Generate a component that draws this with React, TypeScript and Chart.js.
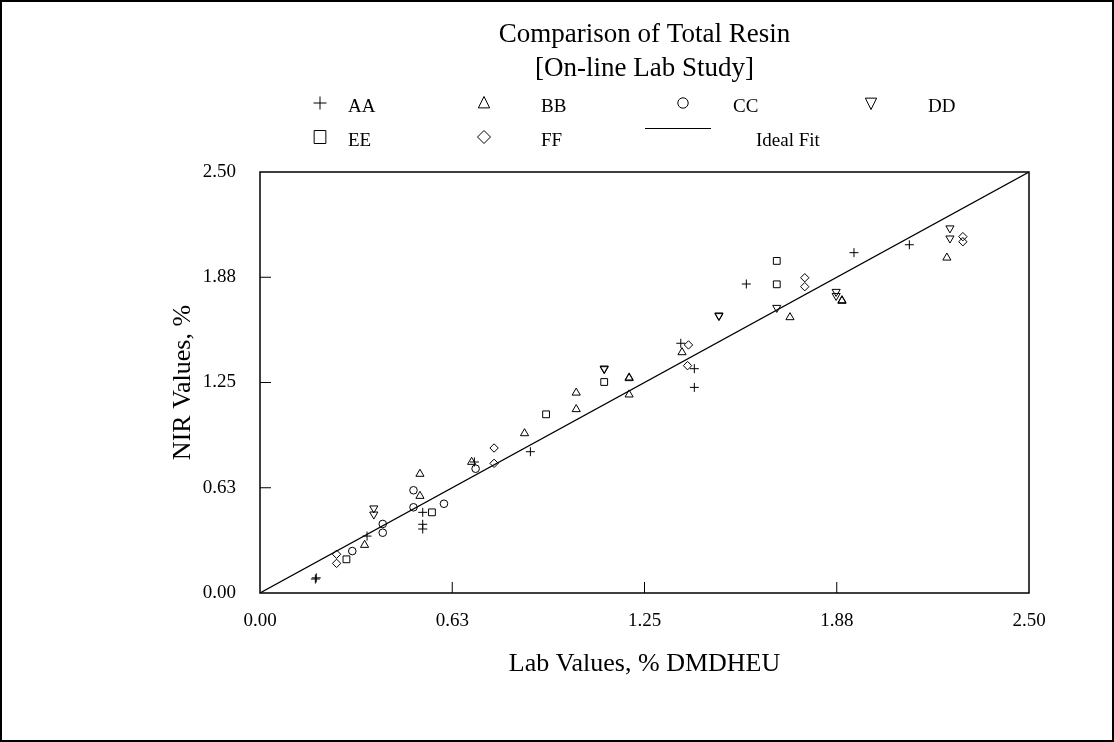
import React, { useEffect, useRef } from "react";
import { Chart, registerables } from "chart.js";

Chart.register(...registerables);

// ---------- data ----------
const AA_X = [0.18, 0.183, 0.348, 0.529, 0.529, 0.529, 0.697, 0.879, 1.368, 1.412, 1.412, 1.581, 1.931, 2.111];
const AA_Y = [0.083, 0.09, 0.338, 0.479, 0.408, 0.38, 0.778, 0.839, 1.483, 1.332, 1.221, 1.835, 2.021, 2.068];

const BB_X = [0.34, 0.52, 0.52, 0.688, 0.86, 1.028, 1.028, 1.2, 1.2, 1.2, 1.372, 1.723, 1.892, 1.892, 2.233];
const BB_Y = [0.285, 0.576, 0.707, 0.778, 0.948, 1.189, 1.091, 1.275, 1.279, 1.178, 1.429, 1.637, 1.734, 1.738, 1.991];

const CC_X = [0.3, 0.399, 0.399, 0.499, 0.499, 0.598, 0.701];
const CC_Y = [0.249, 0.41, 0.358, 0.61, 0.509, 0.53, 0.738];

const DD_X = [0.37, 0.37, 1.119, 1.119, 1.492, 1.492, 1.68, 1.873, 1.873, 2.243, 2.243];
const DD_Y = [0.503, 0.467, 1.33, 1.334, 1.645, 1.649, 1.694, 1.789, 1.765, 2.166, 2.106];

const EE_X = [0.281, 0.559, 0.93, 1.119, 1.68, 1.68];
const EE_Y = [0.2, 0.479, 1.061, 1.253, 1.972, 1.833];

const FF_X = [0.249, 0.249, 0.761, 0.761, 1.393, 1.39, 1.771, 1.771, 2.285, 2.285];
const FF_Y = [0.23, 0.176, 0.77, 0.861, 1.473, 1.35, 1.872, 1.819, 2.116, 2.086];

const IDEAL_X = [0, 2.5];
const IDEAL_Y = [0, 2.5];

const TICK_VALUES = [0, 0.625, 1.25, 1.875, 2.5];
const TICK_LABELS = ["0.00", "0.63", "1.25", "1.88", "2.50"];

const TITLE_LINES = ["Comparison of Total Resin", "[On-line Lab Study]"];
const X_TITLE = "Lab Values, % DMDHEU";
const Y_TITLE = "NIR Values, %";
const SERIES_NAMES = ["AA", "BB", "CC", "DD", "EE", "FF"];
const IDEAL_NAME = "Ideal Fit";

const FONT = '"Liberation Serif", "Times New Roman", serif';

const toPts = (xs: number[], ys: number[]) => xs.map((x, i) => ({ x, y: ys[i] }));

// legend symbol drawing
function drawSymbol(ctx: CanvasRenderingContext2D, kind: string, x: number, y: number, r: number) {
  ctx.beginPath();
  if (kind === "cross") {
    ctx.moveTo(x - r, y);
    ctx.lineTo(x + r, y);
    ctx.moveTo(x, y - r);
    ctx.lineTo(x, y + r);
  } else if (kind === "triangle") {
    ctx.moveTo(x, y - r);
    ctx.lineTo(x + r * 0.87, y + r * 0.75);
    ctx.lineTo(x - r * 0.87, y + r * 0.75);
    ctx.closePath();
  } else if (kind === "triangleDown") {
    ctx.moveTo(x, y + r);
    ctx.lineTo(x + r * 0.87, y - r * 0.75);
    ctx.lineTo(x - r * 0.87, y - r * 0.75);
    ctx.closePath();
  } else if (kind === "circle") {
    ctx.arc(x, y, r * 0.8, 0, Math.PI * 2);
  } else if (kind === "rect") {
    ctx.rect(x - r * 0.9, y - r, r * 1.8, r * 2);
  } else if (kind === "diamond") {
    ctx.moveTo(x, y - r);
    ctx.lineTo(x + r, y);
    ctx.lineTo(x, y + r);
    ctx.lineTo(x - r, y);
    ctx.closePath();
  }
  ctx.stroke();
}

const decorPlugin = {
  id: "decor",
  beforeDraw(chart: any) {
    const { ctx } = chart;
    ctx.save();
    ctx.fillStyle = "#fff";
    ctx.fillRect(0, 0, chart.width, chart.height);
    ctx.restore();
  },
  afterDraw(chart: any) {
    const { ctx, chartArea: a, scales } = chart;
    const xs = scales.x;
    const ys = scales.y;
    ctx.save();
    ctx.strokeStyle = "#000";
    ctx.fillStyle = "#000";

    // outer frame
    ctx.lineWidth = 2;
    ctx.strokeRect(1, 1, chart.width - 2, chart.height - 2);

    // plot box
    ctx.lineWidth = 1.5;
    ctx.strokeRect(a.left, a.top, a.right - a.left, a.bottom - a.top);

    // inward ticks
    ctx.lineWidth = 1;
    ctx.beginPath();
    TICK_VALUES.slice(1, -1).forEach((v) => {
      const px = xs.getPixelForValue(v);
      ctx.moveTo(px, a.bottom);
      ctx.lineTo(px, a.bottom - 11);
      const py = ys.getPixelForValue(v);
      ctx.moveTo(a.left, py);
      ctx.lineTo(a.left + 11, py);
    });
    ctx.stroke();

    // title
    ctx.textAlign = "center";
    ctx.textBaseline = "middle";
    ctx.font = `27px ${FONT}`;
    TITLE_LINES.forEach((t, i) => ctx.fillText(t, (a.left + a.right) / 2, 35 + i * 34));

    // legend
    const kinds = ["cross", "triangle", "circle", "triangleDown", "rect", "diamond"];
    const slots = [
      { sx: 320, sy: 103, tx: 348, ty: 112 },
      { sx: 484, sy: 103, tx: 541, ty: 112 },
      { sx: 683, sy: 103, tx: 733, ty: 112 },
      { sx: 871, sy: 103, tx: 928, ty: 112 },
      { sx: 320, sy: 137, tx: 348, ty: 146 },
      { sx: 484, sy: 137, tx: 541, ty: 146 },
    ];
    ctx.lineWidth = 1;
    ctx.textAlign = "left";
    ctx.textBaseline = "alphabetic";
    ctx.font = `19px ${FONT}`;
    SERIES_NAMES.forEach((n, i) => {
      const s = slots[i];
      drawSymbol(ctx, kinds[i], s.sx, s.sy, 6.5);
      ctx.fillText(n, s.tx, s.ty);
    });
    ctx.beginPath();
    ctx.moveTo(645, 128.5);
    ctx.lineTo(711, 128.5);
    ctx.stroke();
    ctx.font = `19px ${FONT}`;
    ctx.fillText(IDEAL_NAME, 756, 146);

    ctx.restore();
  },
};

export default function App() {
  const ref = useRef<HTMLCanvasElement>(null);

  useEffect(() => {
    document.body.style.margin = "0";
    const canvas = ref.current;
    if (!canvas) return;

    const common = {
      borderColor: "#000",
      backgroundColor: "rgba(0,0,0,0)",
      pointBorderColor: "#000",
      pointBackgroundColor: "rgba(0,0,0,0)",
      pointBorderWidth: 1,
      showLine: false,
    };

    const chart = new Chart(canvas, {
      type: "scatter",
      data: {
        datasets: [
          {
            label: IDEAL_NAME,
            data: toPts(IDEAL_X, IDEAL_Y),
            showLine: true,
            borderColor: "#000",
            borderWidth: 1.2,
            pointRadius: 0,
            pointHoverRadius: 0,
            fill: false,
          },
          { ...common, label: SERIES_NAMES[0], data: toPts(AA_X, AA_Y), pointStyle: "cross", pointRadius: 4.5 },
          { ...common, label: SERIES_NAMES[1], data: toPts(BB_X, BB_Y), pointStyle: "triangle", pointRadius: 4.7 },
          { ...common, label: SERIES_NAMES[2], data: toPts(CC_X, CC_Y), pointStyle: "circle", pointRadius: 3.8 },
          { ...common, label: SERIES_NAMES[3], data: toPts(DD_X, DD_Y), pointStyle: "triangle", pointRotation: 180, pointRadius: 4.7 },
          { ...common, label: SERIES_NAMES[4], data: toPts(EE_X, EE_Y), pointStyle: "rect", pointRadius: 4.8 },
          { ...common, label: SERIES_NAMES[5], data: toPts(FF_X, FF_Y), pointStyle: "rectRot", pointRadius: 4.2 },
        ] as any,
      },
      options: {
        animation: false,
        responsive: false,
        devicePixelRatio: 1,
        events: [],
        layout: { padding: { top: 172, right: 85, left: 0, bottom: 0 } },
        plugins: {
          legend: { display: false },
          title: { display: false },
          tooltip: { enabled: false },
        },
        scales: {
          x: {
            type: "linear",
            min: 0,
            max: 2.5,
            grid: { display: false, drawTicks: false },
            border: { display: false },
            afterBuildTicks: (s: any) => {
              s.ticks = TICK_VALUES.map((v) => ({ value: v }));
            },
            afterFit: (s: any) => {
              s.height = 149;
            },
            ticks: {
              color: "#000",
              font: { family: FONT, size: 19 },
              padding: 17,
              maxRotation: 0,
              autoSkip: false,
              callback: (v: any) => TICK_LABELS[TICK_VALUES.indexOf(Number(v))] ?? "",
            },
            title: {
              display: true,
              text: X_TITLE,
              color: "#000",
              font: { family: FONT, size: 26 },
              padding: { top: 0, bottom: 62 },
            },
          },
          y: {
            type: "linear",
            min: 0,
            max: 2.5,
            grid: { display: false, drawTicks: false },
            border: { display: false },
            afterBuildTicks: (s: any) => {
              s.ticks = TICK_VALUES.map((v) => ({ value: v }));
            },
            afterFit: (s: any) => {
              s.width = 260;
            },
            ticks: {
              color: "#000",
              font: { family: FONT, size: 19 },
              padding: 24,
              autoSkip: false,
              callback: (v: any) => TICK_LABELS[TICK_VALUES.indexOf(Number(v))] ?? "",
            },
            title: {
              display: true,
              text: Y_TITLE,
              color: "#000",
              font: { family: FONT, size: 26 },
              padding: { top: 168, bottom: 0 },
            },
          },
        },
      } as any,
      plugins: [decorPlugin],
    });

    return () => chart.destroy();
  }, []);

  return (
    <div style={{ width: 1114, height: 742 }}>
      <canvas ref={ref} width={1114} height={742} style={{ display: "block", width: 1114, height: 742 }} />
    </div>
  );
}
